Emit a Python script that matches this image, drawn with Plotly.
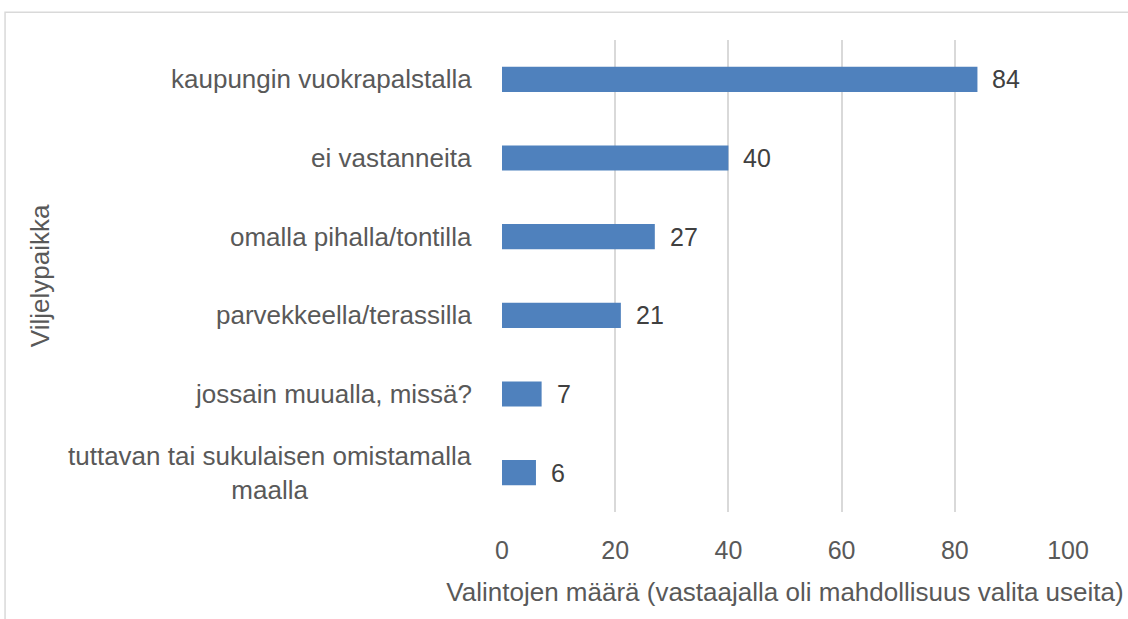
import plotly.graph_objects as go

categories = [
    "kaupungin vuokrapalstalla",
    "ei vastanneita",
    "omalla pihalla/tontilla",
    "parvekkeella/terassilla",
    "jossain muualla, missä?",
    "tuttavan tai sukulaisen omistamalla<br>maalla",
]
values = [84, 40, 27, 21, 7, 6]
x_ticks = [0, 20, 40, 60, 80, 100]
x_title = "Valintojen määrä (vastaajalla oli mahdollisuus valita useita)"
y_title = "Viljelypaikka"

FONT = "Liberation Sans, Arial, sans-serif"
TXT = "#595959"

fig = go.Figure()
fig.add_trace(go.Bar(
    y=list(range(len(categories))), x=values, orientation="h",
    marker=dict(color="#4F81BD", line=dict(width=0)),
    width=0.32, hoverinfo="skip",
))

annotations = []
for i, (c, v) in enumerate(zip(categories, values)):
    annotations.append(dict(
        x=0, y=i, xref="x", yref="y", text=c, showarrow=False,
        xanchor="right", yanchor="middle", align="center", xshift=-28,
        font=dict(family=FONT, size=26, color=TXT)))
    annotations.append(dict(
        x=v, y=i, xref="x", yref="y", text=str(v), showarrow=False,
        xanchor="left", yanchor="middle", xshift=13,
        font=dict(family=FONT, size=25, color="#404040")))
annotations.append(dict(
    x=-0.816, y=0.5, xref="paper", yref="paper", text=y_title,
    showarrow=False, textangle=-90, xanchor="center", yanchor="middle",
    font=dict(family=FONT, size=26, color=TXT)))

fig.update_layout(
    width=1128, height=619,
    margin=dict(l=502, r=60, t=40, b=107),
    paper_bgcolor="white", plot_bgcolor="white",
    showlegend=False,
    xaxis=dict(range=[0, 100], tickvals=x_ticks, showgrid=True,
               gridcolor="#D9D9D9", gridwidth=2, zeroline=False,
               showline=False, ticks="", ticklabelstandoff=21,
               tickfont=dict(family=FONT, size=25, color=TXT),
               title=dict(text=x_title, standoff=19,
                          font=dict(family=FONT, size=26, color=TXT))),
    yaxis=dict(range=[len(categories) - 0.5, -0.5], showticklabels=False,
               showgrid=False, zeroline=False, showline=False, ticks=""),
    annotations=annotations,
    shapes=[dict(type="rect", xref="paper", yref="paper",
                 x0=-0.878, x1=1.11, y0=-0.3, y1=1.059,
                 line=dict(color="#D9D9D9", width=1.5), layer="below")],
)
fig.write_html("out.html", config={"displayModeBar": False},
               post_script="document.body.style.margin='0px';")
